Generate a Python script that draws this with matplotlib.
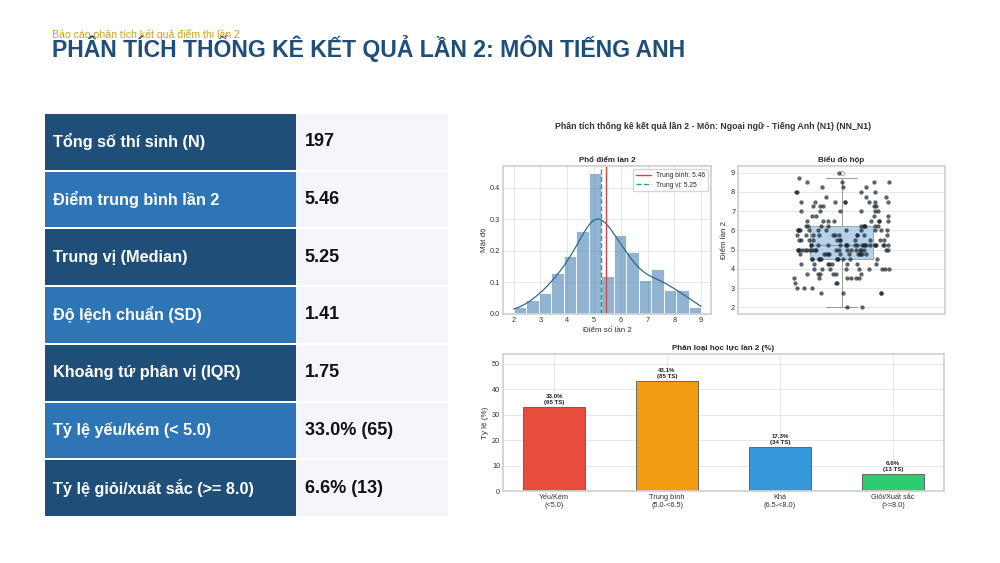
import numpy as np
import matplotlib
matplotlib.use("Agg")
import matplotlib.pyplot as plt
import seaborn as sns

# ---------------- data ----------------
slide_title = "PHÂN TÍCH THỐNG KÊ KẾT QUẢ LẦN 2: MÔN TIẾNG ANH"
slide_subtitle = "Báo cáo phân tích kết quả điểm thi lần 2"
chart_title = "Phân tích thống kê kết quả lần 2 - Môn: Ngoại ngữ - Tiếng Anh (N1) (NN_N1)"

stat_labels = ["Tổng số thí sinh (N)", "Điểm trung bình lần 2", "Trung vị (Median)",
               "Độ lệch chuẩn (SD)", "Khoảng tứ phân vị (IQR)", "Tỷ lệ yếu/kém (< 5.0)",
               "Tỷ lệ giỏi/xuất sắc (>= 8.0)"]
stat_values = ["197", "5.46", "5.25", "1.41", "1.75", "33.0% (65)", "6.6% (13)"]

score_values = [2.0, 2.75, 3.0, 3.25, 3.5, 3.75, 4.0, 4.25, 4.5, 4.75, 5.0, 5.25, 5.5,
                5.75, 6.0, 6.25, 6.5, 6.75, 7.0, 7.25, 7.5, 7.75, 8.0, 8.25, 8.5, 8.75, 9.0]
score_counts = [2, 4, 3, 3, 6, 6, 9, 8, 12, 12, 20, 21, 11,
                11, 12, 10, 8, 4, 6, 5, 8, 3, 4, 3, 4, 1, 1]

class_labels = ["Yếu/Kém\n(<5.0)", "Trung bình\n(5.0-<6.5)", "Khá\n(6.5-<8.0)", "Giỏi/Xuất sắc\n(>=8.0)"]
class_counts = [65, 85, 34, 13]
class_colors = ["#e74c3c", "#f39c12", "#3498db", "#2ecc71"]

scores = np.repeat(score_values, score_counts)
N = len(scores)
mean_v = scores.mean()
median_v = np.median(scores)
class_pct = [c / N * 100 for c in class_counts]

# ---------------- style ----------------
sns.set_theme(style="whitegrid")
plt.rcParams['font.family'] = ['Liberation Sans', 'DejaVu Sans']
plt.rcParams['axes.edgecolor'] = '#d0d0d0'
plt.rcParams['grid.color'] = '#e3e3e3'
plt.rcParams['grid.linewidth'] = 0.6
plt.rcParams['xtick.labelsize'] = 5.3
plt.rcParams['ytick.labelsize'] = 5.3
plt.rcParams['axes.labelsize'] = 5.8
plt.rcParams['xtick.major.pad'] = 2
plt.rcParams['ytick.major.pad'] = 2
plt.rcParams['axes.labelpad'] = 2
plt.rcParams['axes.labelcolor'] = '#333333'
plt.rcParams['xtick.color'] = '#333333'
plt.rcParams['ytick.color'] = '#333333'

fig = plt.figure(figsize=(10, 5.63), dpi=100)
fig.patch.set_facecolor('white')

# slide title
fig.text(0.052, 1 - 48 / 563, slide_title, fontsize=16.6, fontweight='bold', color='#1f4e79',
         va='center', ha='left')
fig.text(0.052, 1 - 35 / 563, slide_subtitle, fontsize=7.6, color='#c9a227', va='center', ha='left')

# ---------------- table ----------------
ax_t = fig.add_axes([0.045, 0.0817, 0.403, 0.7176])
ax_t.set_xlim(0, 1)
ax_t.set_ylim(len(stat_labels) - 0.5, -0.5)
ax_t.axis('off')
w1 = 251 / 403
row_cols = ['#1f4e79' if i % 2 == 0 else '#2e75b6' for i in range(len(stat_labels))]
ax_t.barh(range(len(stat_labels)), [w1] * len(stat_labels), left=0, height=0.965,
          color=row_cols, linewidth=0)
ax_t.barh(range(len(stat_labels)), [1 - w1] * len(stat_labels), left=w1, height=0.965,
          color='#f4f6fb', linewidth=0)
for i, (lab, val) in enumerate(zip(stat_labels, stat_values)):
    ax_t.text(0.02, i, lab, color='white', fontsize=11.7, fontweight='bold', va='center', ha='left')
    ax_t.text(0.645, i, val, color='#111111', fontsize=13, fontweight='bold', va='center', ha='left')

# ---------------- chart title ----------------
fig.text(0.713, 1 - 127 / 563, chart_title, fontsize=6.3, fontweight='bold', color='#333333',
         ha='center', va='center')

# ---------------- histogram ----------------
ax_h = fig.add_axes([0.503, 1 - 314 / 563, 0.208, 148 / 563])
sns.histplot(scores, bins=15, binrange=(2, 9), stat='density', color='steelblue', alpha=0.6,
             edgecolor='white', linewidth=0.6, ax=ax_h)
sns.kdeplot(scores, color='#2f6b8f', linewidth=0.9, cut=0, ax=ax_h)
ax_h.axvline(mean_v, color='#d64541', linewidth=1.0, label=f"Trung bình: {mean_v:.2f}")
ax_h.axvline(median_v, color='#27a37a', linewidth=1.0, linestyle='--', label=f"Trung vị: {median_v:.2f}")
ax_h.set_title("Phổ điểm lần 2", fontsize=5.8, fontweight='bold', pad=3)
ax_h.set_xlabel("Điểm số lần 2")
ax_h.set_ylabel("Mật độ")
ax_h.set_xticks(range(2, 10))
ax_h.set_yticks([0, 0.1, 0.2, 0.3, 0.4])
ax_h.set_xlim(1.6, 9.37)
ax_h.legend(loc='upper right', fontsize=4.8, frameon=True, borderpad=0.4, handlelength=2.2,
            labelspacing=0.4)
ax_h.tick_params(length=0)

# ---------------- boxplot ----------------
ax_b = fig.add_axes([0.738, 1 - 314 / 563, 0.207, 148 / 563])
ax_b.boxplot(scores, positions=[0], widths=0.3, patch_artist=True,
             boxprops=dict(facecolor='#a9cbe8', edgecolor='#8a8a8a', linewidth=0.6, alpha=0.85),
             medianprops=dict(color='#8a8a8a', linewidth=0.6),
             whiskerprops=dict(color='#8a8a8a', linewidth=0.6),
             capprops=dict(color='#8a8a8a', linewidth=0.6),
             flierprops=dict(marker='o', markersize=3, markerfacecolor='white',
                             markeredgecolor='#8a8a8a', markeredgewidth=0.5))
np.random.seed(3)
sns.stripplot(x=np.zeros(N), y=scores, native_scale=True, jitter=0.24, size=3.1,
              color='#1c2833', alpha=0.72, ax=ax_b, orient='v')
ax_b.set_xlim(-0.5, 0.5)
ax_b.set_xticks([])
ax_b.set_yticks(range(2, 10))
ax_b.set_ylim(1.65, 9.35)
ax_b.set_title("Biểu đồ hộp", fontsize=5.8, fontweight='bold', pad=3)
ax_b.set_ylabel("Điểm lần 2")
ax_b.set_xlabel("")
ax_b.tick_params(length=0)

# ---------------- bar chart ----------------
ax_c = fig.add_axes([0.503, 1 - 491 / 563, 0.441, 137 / 563])
xpos = np.arange(len(class_labels))
bars = ax_c.bar(xpos, class_pct, width=0.55, color=class_colors, edgecolor='#555555', linewidth=0.6)
for b, p, c in zip(bars, class_pct, class_counts):
    ax_c.text(b.get_x() + b.get_width() / 2, p + 1, f"{p:.1f}%\n({c} TS)", ha='center', va='bottom',
              fontsize=4.4, fontweight='bold', color='#222222', linespacing=1.1)
ax_c.set_xticks(xpos)
ax_c.set_xticklabels(class_labels, fontsize=5.3)
ax_c.set_ylim(0, max(class_pct) * 1.25)
ax_c.set_yticks([0, 10, 20, 30, 40, 50])
ax_c.set_ylabel("Tỷ lệ (%)")
ax_c.set_title("Phân loại học lực lần 2 (%)", fontsize=5.8, fontweight='bold', pad=3)
ax_c.tick_params(length=0)

fig.savefig("out.png", dpi=100, facecolor='white')
